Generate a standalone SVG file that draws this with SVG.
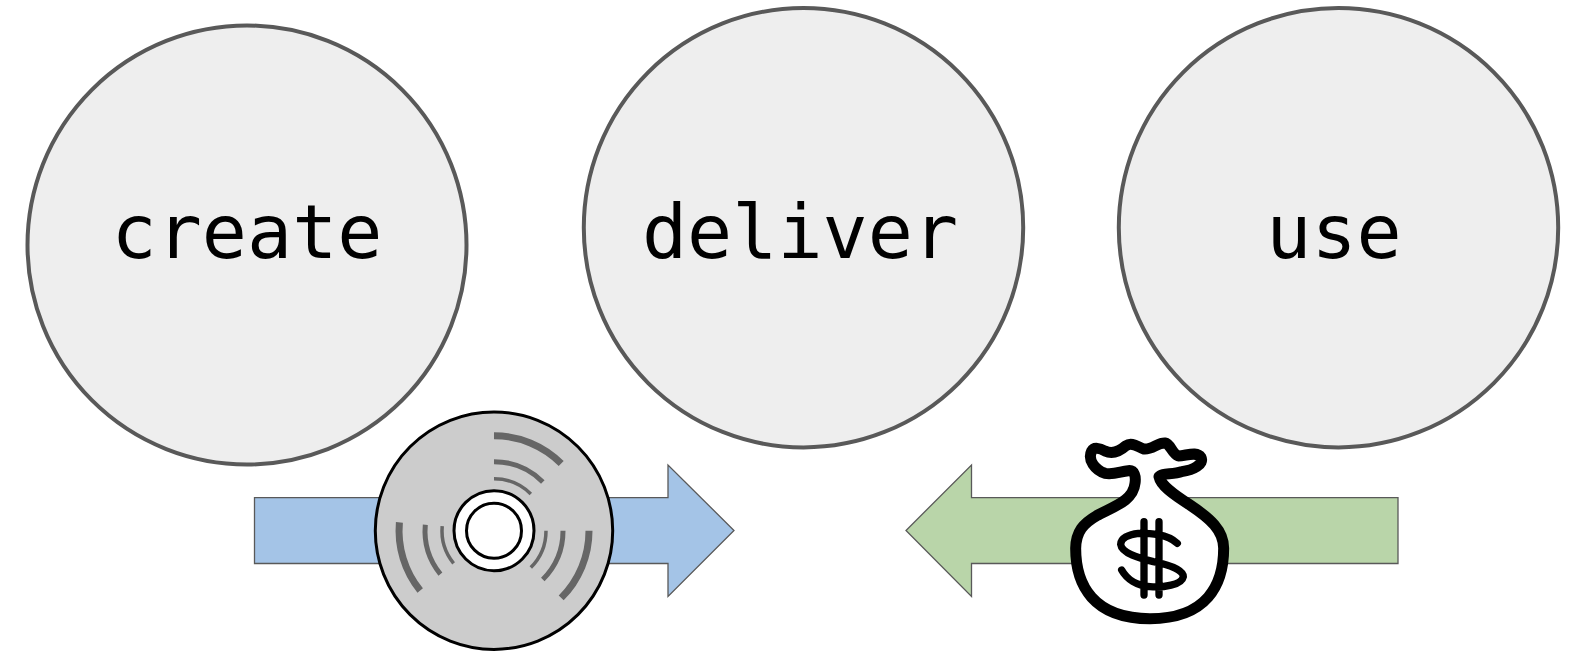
<svg xmlns="http://www.w3.org/2000/svg" width="1584" height="658" viewBox="0 0 1584 658">
<style>
.c{fill:#eeeeee;stroke:#595959;stroke-width:4}
.t{font-family:"DejaVu Sans Mono",monospace;font-size:75px;fill:#000;text-anchor:middle}
.a{stroke:#595959;stroke-width:1.3}
.g{fill:none;stroke:#666666}
.k{stroke:#000;stroke-width:3}
.b{fill:none;stroke:#000;stroke-linecap:round;stroke-linejoin:round}
</style>
<g id="node-create"><circle class="c" cx="247" cy="245" r="219.500"/><text class="t" x="247" y="258">create</text></g>
<g id="node-deliver"><circle class="c" cx="803.500" cy="227.700" r="219.700"/><text class="t" x="800" y="258">deliver</text></g>
<g id="node-use"><circle class="c" cx="1338.500" cy="227.700" r="219.700"/><text class="t" x="1334" y="258">use</text></g>
<g id="connectors">
<path class="a" fill="#a4c4e7" d="M254.500 497.700H668V465L734 530.500L668 596.500V563.500H254.500Z"/>
<path class="a" fill="#b9d5a9" d="M1398 497.700H971.500V465L906 530.500L971.500 596.500V563.500H1398Z"/>
</g>
<g id="node-disc">
<circle class="k" cx="494" cy="530.700" r="118.700" fill="#cccccc"/>
<circle class="k" cx="494" cy="530.700" r="40" fill="#ffffff"/>
<circle class="k" cx="494" cy="530.700" r="27.500" fill="#ffffff"/>
<g class="g" stroke-width="7"><path d="M494 435.700A95 95 0 0 1 561.200 463.500"/><path d="M589 530.700A95 95 0 0 1 561.200 597.900"/><path d="M399.400 522.400A95 95 0 0 0 420.200 590.500"/></g>
<g class="g" stroke-width="5"><path d="M494 461.700A69 69 0 0 1 542.800 481.900"/><path d="M563 530.700A69 69 0 0 1 542.800 579.500"/><path d="M425.300 524.700A69 69 0 0 0 440.400 574.100"/></g>
<g class="g" stroke-width="3.500"><path d="M494 478.700A52 52 0 0 1 530.800 493.900"/><path d="M546 530.700A52 52 0 0 1 530.800 567.500"/><path d="M442.200 526.200A52 52 0 0 0 453.600 563.400"/></g>
</g>
<g id="node-money" transform="translate(1050 425) scale(.33333)">
<path class="b" style="fill:#fff" stroke-width="33" d="M77 370C78 320 100 295 140 272C190 245 250 228 255 175C258 155 254 135 235 137C210 140 190 150 165 145C135 135 112 105 125 78C132 65 150 70 165 78C190 90 210 78 228 62C245 50 262 65 282 72C305 75 325 52 345 54C362 57 365 85 385 93C410 92 440 78 453 97C463 118 430 135 395 140C370 150 335 143 327 155C332 180 365 205 420 240C480 280 521 315 521 370C521 480 470 581 300 581C130 581 77 480 77 370Z"/>
<path class="b" stroke-width="22" d="M382 355C350 325 300 325 265 325C235 328 212 340 212 358C215 385 270 400 310 410C360 420 400 435 400 455C395 480 340 488 300 485C260 482 230 462 215 435M282 290V510M327 290V510"/>
</g>
</svg>
